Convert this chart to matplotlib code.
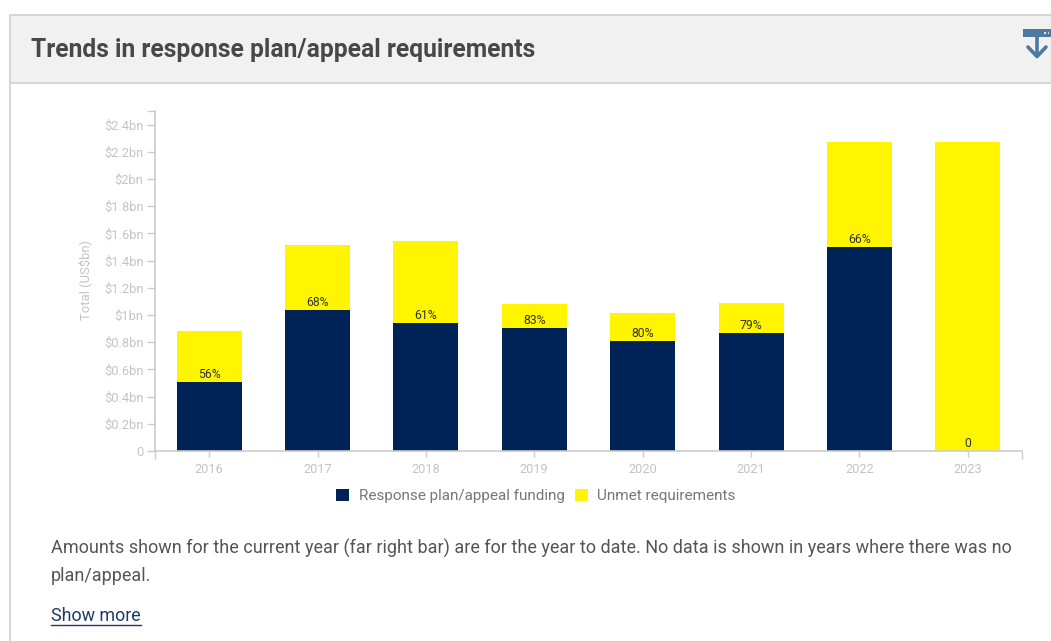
# -*- coding: utf-8 -*-
"""
Stacked bars of response plan/appeal funding and unmet requirements by year.
"""
from matplotlib import pyplot as plt
from matplotlib.patches import Rectangle
from matplotlib.ticker import FixedLocator

# =============================================================================
# Data
# =============================================================================
years = ["2016", "2017", "2018", "2019", "2020", "2021", "2022", "2023"]
funding = [0.507, 1.037, 0.94, 0.905, 0.81, 0.87, 1.5, 0.0]
unmet = [0.373, 0.478, 0.605, 0.175, 0.205, 0.22, 0.77, 2.27]
coverage = ["56%", "68%", "61%", "83%", "80%", "79%", "66%", "0"]

y_ticks = [0, 0.2, 0.4, 0.6, 0.8, 1.0, 1.2, 1.4, 1.6, 1.8, 2.0, 2.2, 2.4]
y_labels = ["0", "$0.2bn", "$0.4bn", "$0.6bn", "$0.8bn", "$1bn", "$1.2bn",
            "$1.4bn", "$1.6bn", "$1.8bn", "$2bn", "$2.2bn", "$2.4bn"]

navy = "#002357"
yellow = "#fff500"
axis_grey = "#cccccc"
label_grey = "#c4c4c4"

plt.rcParams["font.family"] = ["Roboto", "DejaVu Sans"]

W, H = 1051, 641
fig = plt.figure(figsize=(W / 100, H / 100), dpi=100)

# page layer in pixel coordinates, origin top left
bg = fig.add_axes([0, 0, 1, 1])
bg.set_xlim(0, W)
bg.set_ylim(H, 0)
bg.axis("off")

bg.add_patch(Rectangle((9.5, 14.5), W, 68, fc="#f1f1f1", ec="#d0d0d0", lw=1.2))
bg.plot([9.5, 9.5], [82, H], color="#d0d0d0", lw=1.2)
bg.text(31, 50.5, "Trends in response plan/appeal requirements", fontsize=17.7,
        fontweight="bold", color="#484848", va="center")

# download icon
icon = "#4d7aa0"
bg.add_patch(Rectangle((1023, 29), 28, 8, fc=icon, ec="none"))
bg.plot([1037, 1037], [36, 56], color=icon, lw=2.6, solid_capstyle="round")
bg.plot([1028, 1037, 1046], [47, 56.5, 47], color=icon, lw=2.6,
        solid_capstyle="round", solid_joinstyle="round")
bg.plot([1044, 1049], [33, 33], color="#dfe6ec", lw=1.5, ls=(0, (1, 1)))

bg.text(51, 548, "Amounts shown for the current year (far right bar) are for "
        "the year to date. No data is shown in years where there was no",
        fontsize=12.95, color="#555555", va="center")
bg.text(51, 576, "plan/appeal.", fontsize=12.95, color="#555555", va="center")
bg.text(51, 616, "Show more", fontsize=12.9, color="#1f3a63", va="center")
bg.plot([51, 141], [625, 625], color="#1f3a63", lw=1)

# chart
left, right, top, bottom = 155, 1022, 111, 451
ax = fig.add_axes([left / W, 1 - bottom / H, (right - left) / W,
                   (bottom - top) / H])
ax.patch.set_alpha(0)

xpos = list(range(len(years)))
ax.bar(xpos, funding, width=0.6, color=navy, label="Response plan/appeal funding")
ax.bar(xpos, unmet, width=0.6, bottom=funding, color=yellow,
       label="Unmet requirements")

for x, f, lab in zip(xpos, funding, coverage):
    ax.annotate(lab, (x, f), xytext=(0, 1), textcoords="offset pixels",
                ha="center", va="bottom", fontsize=8.8, color="#333333")

ax.set_xlim(-0.5, 7.5)
ax.set_ylim(0, 2.5)
ax.set_xticks(xpos, years)
ax.set_yticks(y_ticks, y_labels)
ax.yaxis.set_minor_locator(FixedLocator([2.5]))
ax.xaxis.set_minor_locator(FixedLocator([-0.5, 7.5]))

for side in ("top", "right"):
    ax.spines[side].set_visible(False)
for side in ("left", "bottom"):
    ax.spines[side].set_color(axis_grey)
    ax.spines[side].set_linewidth(1.2)

ax.tick_params(axis="y", which="both", length=5.8, width=1, color=axis_grey,
               labelcolor=label_grey, labelsize=9.3, pad=2.5)
ax.tick_params(axis="x", which="major", length=4.3, width=1, color=axis_grey,
               labelcolor=label_grey, labelsize=9.2, pad=4)
ax.tick_params(axis="x", which="minor", length=5.8, width=1, color=axis_grey)
ax.set_ylabel("Total (US$bn)", fontsize=9.4, color=label_grey)
ax.yaxis.set_label_coords((92 - left) / (right - left), (bottom - 280) / (bottom - top))

# legend
handles, labels = ax.get_legend_handles_labels()
fig.legend(handles, labels, loc="center", bbox_to_anchor=(536 / W, 1 - 496 / H),
           ncol=2, frameon=False, fontsize=11.0, labelcolor="#777777",
           handlelength=0.85, handleheight=0.85, handletextpad=0.6,
           columnspacing=0.7)

fig.savefig("out.png", dpi=100)
